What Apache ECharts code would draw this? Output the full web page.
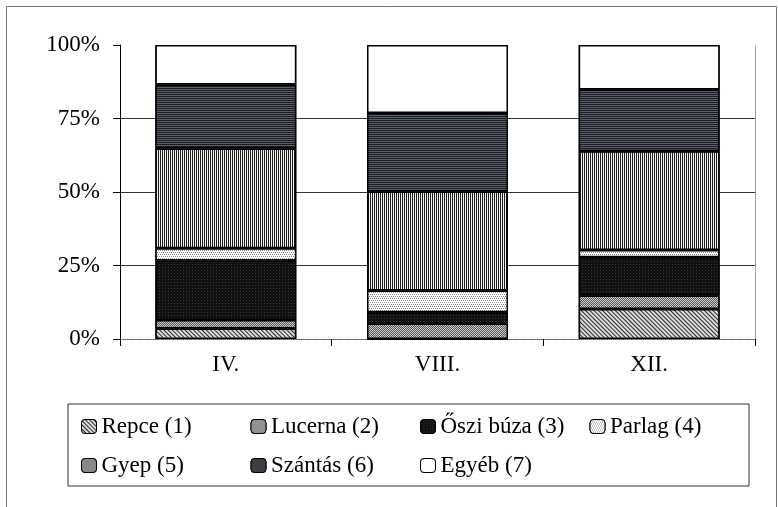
<!DOCTYPE html>
<html>
<head>
<meta charset="utf-8">
<script src="https://cdn.jsdelivr.net/npm/echarts@6/dist/echarts.min.js"></script>
<style>
html,body{margin:0;padding:0;background:#fff;}
#chart{width:778px;height:507px;}
</style>
</head>
<body>
<div id="chart"></div>
<script>
// ---- data (percent shares) ----
var categories = ['IV.', 'VIII.', 'XII.'];
var seriesNames = ['Repce (1)', 'Lucerna (2)', 'Őszi búza (3)', 'Parlag (4)', 'Gyep (5)', 'Szántás (6)', 'Egyéb (7)'];
var repce    = [3.6, 0.0, 10.2];
var lucerna  = [2.9, 5.3, 4.6];
var osziBuza = [20.2, 3.8, 13.0];
var parlag   = [4.2, 7.4, 2.5];
var gyep     = [33.9, 33.7, 33.6];
var szantas  = [21.8, 26.7, 21.0];
var egyeb    = [13.4, 23.1, 15.1];
var yTicks   = [0, 25, 50, 75, 100];

var values = [repce, lucerna, osziBuza, parlag, gyep, szantas, egyeb];
var FONT = "'Liberation Serif', 'Times New Roman', serif";
var FS = 23;

function decal(color, bg, dx, dy, rot) {
  return {symbol: 'rect', symbolSize: 1, symbolKeepAspect: false, color: color, backgroundColor: bg,
          dashArrayX: dx, dashArrayY: dy, rotation: rot || 0, maxTileWidth: 512, maxTileHeight: 512};
}

// fill + decal pattern per series
var styles = [
  {color: '#dcdcdc', decal: decal('#2a2a2a', '#dcdcdc', [1, 0], [1, 2], Math.PI / 4)},
  {color: '#cfcfcf', decal: decal('#555', '#cfcfcf', [[1, 1], [0, 1, 1, 0]], [1, 0], 0)},
  {color: '#111', decal: decal('#3a3a3a', '#111', [1, 2], [1, 2], 0)},
  {color: '#fff', decal: decal('#8a8a8a', '#fff', [[1, 1], [0, 1, 1, 0]], [1, 1], 0)},
  {color: '#f2f2f2', decal: decal('#1e1e1e', '#f2f2f2', [1, 1], [1, 0], 0)},
  {color: '#5b5f69', decal: decal('#1c1d24', '#5b5f69', [1, 0], [1, 1], 0)},
  {color: '#fff', decal: decal('rgba(0,0,0,0)', '#fff', [1, 0], [1, 0], 0)}
];

var series = seriesNames.map(function (name, i) {
  return {
    name: name,
    type: 'bar',
    stack: 'total',
    barCategoryGap: '33.4%',
    data: values[i],
    itemStyle: {color: styles[i].color, borderColor: '#000', borderWidth: 1.5, decal: styles[i].decal},
    emphasis: {disabled: true}
  };
});

var chart = echarts.init(document.getElementById('chart'), null, {renderer: 'canvas'});
chart.setOption({
  backgroundColor: '#fff',
  animation: false,
  aria: {enabled: true, decal: {show: true}},
  graphic: [{
    type: 'rect', silent: true, z: -1,
    shape: {x: 6.5, y: 6.5, width: 770, height: 520},
    style: {fill: 'none', stroke: '#777', lineWidth: 1}
  }],
  grid: {left: 120, top: 45, width: 635, height: 294},
  xAxis: [{
    type: 'category', data: categories,
    axisLine: {lineStyle: {color: '#000', width: 1}},
    axisTick: {show: true, length: 7, lineStyle: {color: '#000'}},
    axisLabel: {color: '#000', fontFamily: FONT, fontSize: FS, margin: 14}
  }, {
    type: 'category', data: categories, position: 'top',
    axisLine: {show: true, lineStyle: {color: '#8a8a8a', type: 'dotted', width: 1}},
    axisTick: {show: false}, axisLabel: {show: false}
  }],
  yAxis: [{
    type: 'value', min: yTicks[0], max: yTicks[yTicks.length - 1], interval: 25,
    axisLine: {show: true, lineStyle: {color: '#000', width: 1}},
    axisTick: {show: true, length: 7, lineStyle: {color: '#000'}},
    axisLabel: {color: '#000', fontFamily: FONT, fontSize: FS, margin: 20, formatter: '{value}%'},
    splitLine: {show: true, showMinLine: false, showMaxLine: false, lineStyle: {color: '#333', width: 1}}
  }, {
    type: 'value', min: yTicks[0], max: yTicks[yTicks.length - 1], interval: 25, position: 'right',
    axisLine: {show: true, lineStyle: {color: '#8a8a8a', type: 'dotted', width: 1}},
    axisTick: {show: false}, axisLabel: {show: false}, splitLine: {show: false}
  }],
  legend: {
    data: seriesNames,
    left: 68, top: 404, width: 700,
    padding: [3, 14, 1, 13],
    orient: 'horizontal',
    itemWidth: 15, itemHeight: 14, itemGap: 0,
    borderColor: '#333', borderWidth: 1,
    selectedMode: false,
    itemStyle: {borderColor: '#000', borderWidth: 1},
    formatter: function (name) {
      return (name === 'Parlag (4)' ? '{b|' : '{a|') + name + '}';
    },
    textStyle: {
      color: '#000', fontFamily: FONT, fontSize: FS, lineHeight: 39,
      rich: {
        a: {width: 149, color: '#000', fontFamily: FONT, fontSize: FS, lineHeight: 39},
        b: {width: 125, color: '#000', fontFamily: FONT, fontSize: FS, lineHeight: 39}
      }
    }
  },
  series: series
});
</script>
</body>
</html>
